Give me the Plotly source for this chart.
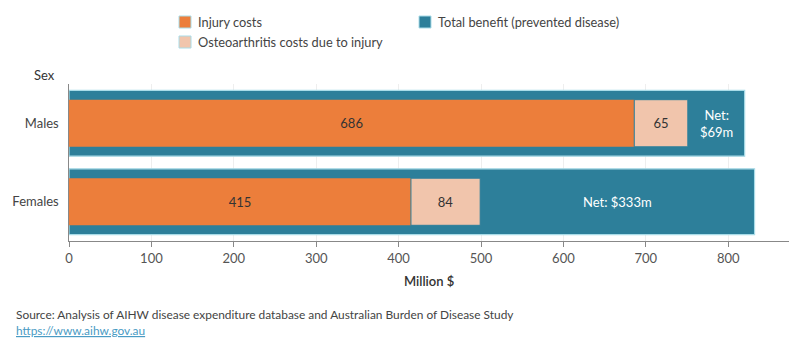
import plotly.graph_objects as go

sexes = ["Males", "Females"]
injury_costs = [686, 415]
oa_costs = [65, 84]
net_benefit = [69, 333]
net_labels = ["Net:<br>$69m", "Net: $333m"]
x_ticks = [0, 100, 200, 300, 400, 500, 600, 700, 800]

total_benefit = [i + o + n for i, o, n in zip(injury_costs, oa_costs, net_benefit)]

C_INJ = "#EC7E3B"
C_OA = "#F1C5AC"
C_BEN = "#2D7F9A"
C_EDGE = "#A9DCE8"
FONT = "Lato"

fig = go.Figure()
fig.add_trace(go.Bar(
    y=sexes, x=total_benefit, orientation="h", width=0.84,
    marker=dict(color=C_BEN, line=dict(color=C_EDGE, width=1.2)),
    name="Total benefit (prevented disease)", showlegend=False, hoverinfo="x+name"))
fig.add_trace(go.Bar(
    y=sexes, x=injury_costs, orientation="h", width=0.6,
    marker=dict(color=C_INJ, line=dict(width=0)),
    text=[str(v) for v in injury_costs], textposition="inside", insidetextanchor="middle",
    textfont=dict(color="#333333", size=13, family=FONT),
    name="Injury costs", showlegend=False))
fig.add_trace(go.Bar(
    y=sexes, x=oa_costs, base=injury_costs, orientation="h", width=0.6,
    marker=dict(color=C_OA, line=dict(color=C_BEN, width=1)),
    text=[str(v) for v in oa_costs], textposition="inside", insidetextanchor="middle",
    textfont=dict(color="#333333", size=13, family=FONT),
    name="Osteoarthritis costs due to injury", showlegend=False))

annotations = []
for s, i, o, n, lab in zip(sexes, injury_costs, oa_costs, net_benefit, net_labels):
    annotations.append(dict(x=i + o + n / 2, y=s, xref="x", yref="y", text=lab,
                            showarrow=False, font=dict(color="white", size=13, family=FONT)))

# plot area in pixels: x 69..789, y 84..241
L, R, T, B = 69, 789, 84, 241
def px(x):
    return (x - L) / (R - L)
def py(y):
    return (B - y) / (B - T)

shapes = []
legend_items = [("Injury costs", C_INJ, 179, 16), ("Total benefit (prevented disease)", C_BEN, 419, 16),
                ("Osteoarthritis costs due to injury", C_OA, 179, 36)]
for text, col, x0, y0 in legend_items:
    shapes.append(dict(type="rect", xref="paper", yref="paper",
                       x0=px(x0), x1=px(x0 + 12), y0=py(y0 + 12), y1=py(y0),
                       fillcolor=col, line=dict(color=C_EDGE, width=1)))
    annotations.append(dict(x=px(x0 + 17), y=py(y0 + 6), xref="paper", yref="paper",
                            text=text, showarrow=False, xanchor="left", yanchor="middle",
                            font=dict(color="#444444", size=12.8, family=FONT)))

annotations.append(dict(x=px(57), y=py(75), xref="paper", yref="paper", text="Sex",
                        showarrow=False, xanchor="right", yanchor="middle",
                        font=dict(color="#333333", size=13, family=FONT)))
annotations.append(dict(x=0.5, y=py(281), xref="paper", yref="paper", text="Million $",
                        showarrow=False, xanchor="center", yanchor="middle",
                        font=dict(color="#333333", size=13, family=FONT, weight=600)))
annotations.append(dict(x=px(14), y=py(314), xref="paper", yref="paper",
                        text="Source: Analysis of AIHW disease expenditure database and Australian Burden of Disease Study",
                        showarrow=False, xanchor="left", yanchor="middle",
                        font=dict(color="#444444", size=11.9, family=FONT)))
annotations.append(dict(x=px(14), y=py(330), xref="paper", yref="paper",
                        text="<u>https://www.aihw.gov.au</u>",
                        showarrow=False, xanchor="left", yanchor="middle",
                        font=dict(color="#4A9BC4", size=11.9, family=FONT)))

fig.update_layout(
    width=800, height=350, barmode="overlay",
    margin=dict(l=L, r=800 - R, t=T, b=350 - B, pad=0),
    plot_bgcolor="white", paper_bgcolor="white",
    font=dict(family=FONT, size=12, color="#333333"),
    showlegend=False, annotations=annotations, shapes=shapes,
    xaxis=dict(range=[0, (R - L) / 0.824], tickvals=x_ticks, ticks="outside", ticklen=5,
               tickcolor="#888888", showline=True, linecolor="#888888", linewidth=1,
               showgrid=True, gridcolor="#EEEEEE", zeroline=False,
               tickfont=dict(color="#555555", size=13, family=FONT)),
    yaxis=dict(autorange="reversed", showline=True, linecolor="#888888", linewidth=1,
               showgrid=False, ticks="", ticklen=0, ticksuffix="  ",
               tickfont=dict(color="#444444", size=13, family=FONT)),
)

fig.write_html("out.html")
